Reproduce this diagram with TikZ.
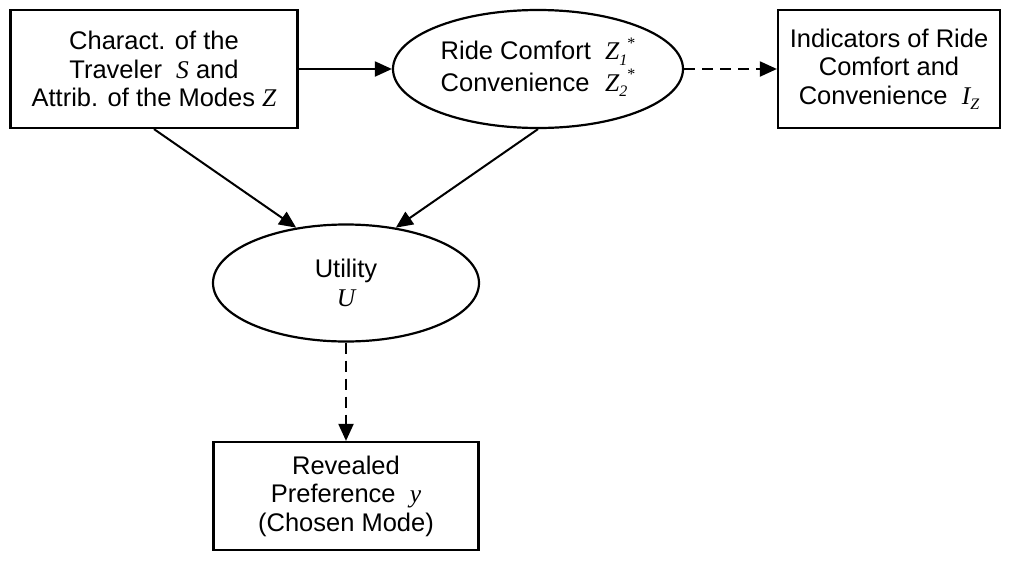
\documentclass[tikz,border=0pt]{standalone}
\usepackage{fontspec}
\setmainfont{Liberation Sans}
\newfontfamily\tms{Liberation Serif}
\usetikzlibrary{arrows.meta,shapes.geometric}
% italic serif symbols
\newcommand{\vr}[1]{{\tms\itshape #1}}
\newcommand{\lsub}[1]{\raisebox{-0.45ex}{\fontsize{16pt}{16pt}\selectfont #1}}
\newcommand{\lsup}[1]{\raisebox{1.0ex}{\fontsize{16pt}{16pt}\selectfont\upshape #1}}
\begin{document}
\begin{tikzpicture}[x=1pt,y=-1pt,
  every node/.style={font=\fontsize{25.5pt}{28.5pt}\selectfont},
  box/.style={draw,line width=2.2pt,rectangle,inner sep=0pt,align=center},
  oval/.style={draw,line width=2.2pt,ellipse,inner sep=0pt,align=center},
  arr/.style={line width=2pt,-{Triangle[length=17pt,width=15pt]}},
  darr/.style={arr,dash pattern=on 11pt off 7pt}]
\useasboundingbox (0,0) rectangle (1010,560);
\node[box,minimum width=287pt,minimum height=118pt] (trav) at (154,69)
  {Charact. of the\\Traveler \ \vr{S} and\\Attrib. of the Modes \vr{Z}};
\node[oval,minimum width=290pt,minimum height=118pt] (comf) at (538,69)
  {\begin{tabular}{@{}l@{\ \ }l@{}}Ride Comfort & \vr{Z\lsub{1}\lsup{*}}\\[1pt]Convenience & \vr{Z\lsub{2}\lsup{*}}\end{tabular}};
\node[box,minimum width=222pt,minimum height=118pt] (ind) at (889,69)
  {Indicators of Ride\\Comfort and\\Convenience \ \vr{I\lsub{Z}}};
\node[oval,minimum width=266pt,minimum height=117pt] (util) at (346,283)
  {Utility\\\vr{U}};
\node[box,minimum width=265pt,minimum height=108pt] (rev) at (346,496)
  {Revealed\\Preference \ \vr{y}\\(Chosen Mode)};
\draw[arr] (trav.east) -- (comf.west);
\draw[darr] (comf.east) -- (ind.west);
\draw[arr] (trav.south) -- (util.132);
\draw[arr] (comf.south) -- (util.48);
\draw[darr] (util.south) -- (rev.north);
\end{tikzpicture}
\end{document}
